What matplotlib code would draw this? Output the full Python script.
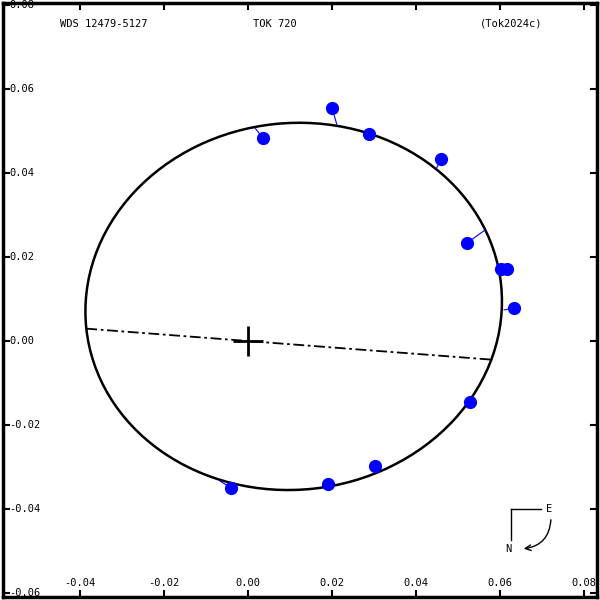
import matplotlib
matplotlib.use('Agg')
import matplotlib.pyplot as plt
from matplotlib.patches import Ellipse
import numpy as np

# observed positions (arcsec)
obs_x = [0.0036, 0.0200, 0.0288, 0.0460, 0.0521, 0.0602, 0.0617, 0.0633, 0.0529, 0.0302, 0.0190, -0.0040]
obs_y = [0.0483, 0.0555, 0.0493, 0.0433, 0.0233, 0.0171, 0.0171, 0.0079, -0.0145, -0.0298, -0.0341, -0.0350]
# predicted positions on the orbit
fit_x = [0.0017, 0.0212, 0.0288, 0.0448, 0.0564, 0.0600, 0.0614, 0.0610, 0.0529, 0.0300, 0.0190, -0.0067]
fit_y = [0.0507, 0.0514, 0.0493, 0.0410, 0.0264, 0.0173, 0.0171, 0.0074, -0.0145, -0.0296, -0.0341, -0.0333]

# apparent ellipse
ell_cx, ell_cy = 0.01088, 0.00824
ell_w, ell_h = 0.0993, 0.0873
ell_angle = 6.0
node_slope = -0.0765

xticks = [-0.04, -0.02, 0.00, 0.02, 0.04, 0.06, 0.08]
yticks = [0.08, 0.06, 0.04, 0.02, 0.00, -0.02, -0.04, -0.06]

mono = 'DejaVu Sans Mono'

fig = plt.figure(figsize=(6, 6), dpi=100)
ax = fig.add_axes([0.005, 0.005, 0.99, 0.99])
ax.set_xlim(-0.05833, 0.08310)
ax.set_ylim(-0.06095, 0.08048)

for s in ax.spines.values():
    s.set_linewidth(2.5)
ax.set_xticks(xticks)
ax.set_yticks(yticks)
ax.tick_params(direction='in', length=5, width=1.5, top=True, right=True,
               labelbottom=False, labelleft=False)

# tick labels drawn inside the frame
for v in xticks:
    ax.text(v, 0.024, '%.2f' % v, transform=ax.get_xaxis_transform(),
            ha='center', va='center', family=mono, fontsize=7.5)
for v in yticks:
    ax.text(0.011, v, '%.2f' % v, transform=ax.get_yaxis_transform(),
            ha='left', va='center', family=mono, fontsize=7.5)

# orbit
ax.add_patch(Ellipse((ell_cx, ell_cy), ell_w, ell_h, angle=ell_angle,
                     fill=False, color='black', lw=1.8, zorder=3))

# line of nodes: intersect line through origin with ellipse
t = np.radians(ell_angle)
a, b = ell_w / 2, ell_h / 2
d = np.array([1.0, node_slope])
d = d / np.linalg.norm(d)
R = np.array([[np.cos(t), np.sin(t)], [-np.sin(t), np.cos(t)]])
p0 = R @ (np.array([0.0, 0.0]) - np.array([ell_cx, ell_cy]))
dr = R @ d
A = dr[0] ** 2 / a ** 2 + dr[1] ** 2 / b ** 2
B = 2 * (p0[0] * dr[0] / a ** 2 + p0[1] * dr[1] / b ** 2)
C = p0[0] ** 2 / a ** 2 + p0[1] ** 2 / b ** 2 - 1
roots = [(-B - np.sqrt(B * B - 4 * A * C)) / (2 * A), (-B + np.sqrt(B * B - 4 * A * C)) / (2 * A)]
ax.plot([roots[0] * d[0], roots[1] * d[0]], [roots[0] * d[1], roots[1] * d[1]],
        color='black', lw=1.3, dashes=(6, 2, 1.5, 2), zorder=3)

# primary
ax.plot([0], [0], marker='+', ms=22, mew=2, color='black', zorder=4)

# residuals and observations
for i in range(len(obs_x)):
    ax.plot([obs_x[i], fit_x[i]], [obs_y[i], fit_y[i]], color='#0000ff', lw=0.8, zorder=4)
ax.plot(obs_x, obs_y, 'o', color='#0000ff', ms=8.5, mec='#0000ff', zorder=5)

# header text
fig.text(60 / 600, 1 - 24 / 600, 'WDS 12479-5127', family=mono, fontsize=7.5, ha='left', va='center')
fig.text(275 / 600, 1 - 24 / 600, 'TOK 720', family=mono, fontsize=7.5, ha='center', va='center')
fig.text(480 / 600, 1 - 24 / 600, '(Tok2024c)', family=mono, fontsize=7.5, ha='left', va='center')

# compass
fig.add_artist(plt.Line2D([511 / 600, 541 / 600], [1 - 509 / 600, 1 - 509 / 600], color='black', lw=1))
fig.add_artist(plt.Line2D([511 / 600, 511 / 600], [1 - 509 / 600, 1 - 540 / 600], color='black', lw=1))
fig.text(549 / 600, 1 - 509 / 600, 'E', family=mono, fontsize=7.5, ha='center', va='center')
fig.text(508 / 600, 1 - 549 / 600, 'N', family=mono, fontsize=7.5, ha='center', va='center')
ax.annotate('', xy=(521 / 600, 1 - 549 / 600), xytext=(551 / 600, 1 - 517 / 600),
            xycoords='figure fraction', textcoords='figure fraction',
            arrowprops=dict(arrowstyle='->', connectionstyle='arc3,rad=-0.45', lw=1, color='black'))

fig.savefig('out.png', dpi=100)
